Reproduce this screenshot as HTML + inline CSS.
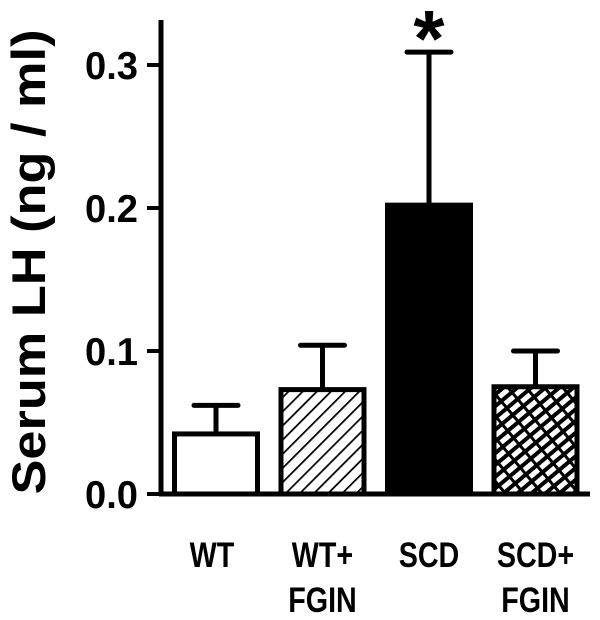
<!DOCTYPE html>
<html><head><meta charset="utf-8"><style>body{margin:0;background:#fff}svg{display:block}text{font-family:"Liberation Sans",Arial,sans-serif;font-weight:bold}</style></head>
<body>
<svg id="chart" width="600" height="620" viewBox="0 0 600 620" xmlns="http://www.w3.org/2000/svg">
<defs>
<pattern id="hatch" width="10" height="10" patternUnits="userSpaceOnUse" patternTransform="rotate(45)">
<line x1="0" y1="0" x2="0" y2="10" stroke="#000" stroke-width="3.5"/></pattern>
<pattern id="cross" width="14" height="9" patternUnits="userSpaceOnUse" patternTransform="rotate(-40)">
<rect width="14" height="9" fill="#000"/><rect x="1.5" y="1.5" width="11" height="5" fill="#fff"/></pattern>
</defs>
<g id="plot"></g>
</svg>
<script>
const categories=["WT","WT+|FGIN","SCD","SCD+|FGIN"];
const means=[0.042,0.073,0.202,0.075];
const errors=[0.020,0.031,0.107,0.025];
const fills=["#fff","url(#hatch)","#000","url(#cross)"];
const tickValues=[0.0,0.1,0.2,0.3];
const tickLabels=["0.0","0.1","0.2","0.3"];
const sigMarks=["","","*",""];
const ns="http://www.w3.org/2000/svg";
const g=document.getElementById("plot");
const y0=494, pxPerUnit=1430, axisX=161;
const y=v=>y0-v*pxPerUnit;
const bandStart=172, bandStep=106.5, barW=88;
const xb=i=>bandStart+i*bandStep;
function mk(t,a){const e=document.createElementNS(ns,t);for(const k in a)e.setAttribute(k,a[k]);g.appendChild(e);return e;}
let ax=mk("line",{x1:axisX,y1:20,x2:axisX,y2:y0+2,stroke:"#000","stroke-width":5});


let bx=mk("line",{x1:axisX-2,y1:y0,x2:590,y2:y0,stroke:"#000","stroke-width":5});


tickValues.forEach((v,i)=>{
 let t=mk("line",{x1:axisX-14,y1:y(v),x2:axisX,y2:y(v),stroke:"#000","stroke-width":4});
 
 
 let l=mk("text",{x:axisX-23,y:y(v)+14,"text-anchor":"end","font-size":39,textLength:53,lengthAdjust:"spacingAndGlyphs"});
 l.textContent=tickLabels[i];
 
 
});
let yt=mk("text",{transform:"translate(45,262) rotate(-90)","text-anchor":"middle","font-size":47,textLength:465,lengthAdjust:"spacingAndGlyphs"});
yt.textContent="Serum LH (ng / ml)";


categories.forEach((c,i)=>{
 const x=xb(i), cx=x+barW/2, top=y(means[i]), et=y(means[i]+errors[i]);
 let el=mk("line",{x1:cx,y1:top,x2:cx,y2:et,stroke:"#000","stroke-width":5});
 
 
 let cap=mk("line",{x1:cx-22,y1:et,x2:cx+22,y2:et,stroke:"#000","stroke-width":5,"stroke-linecap":"round"});
 
 
 let r=mk("rect",{x:x+2.5,y:top,width:barW-5,height:y0-top,fill:fills[i],stroke:"#000","stroke-width":5});
 
 
 c.split("|").forEach((ln,j)=>{
  let t=mk("text",{x:cx+(i==0?-4:0),y:567+j*45,"text-anchor":"middle","font-size":35});
  t.textContent=ln;
  
  
  const w=t.getComputedTextLength();
  t.setAttribute("textLength",w*0.82);
  t.setAttribute("lengthAdjust","spacingAndGlyphs");
 });
 if(sigMarks[i]){
  let s=mk("text",{x:cx,y:et+14,"text-anchor":"middle","font-size":80});
  s.textContent=sigMarks[i];
  
  
 }
});
</script>
</body></html>
